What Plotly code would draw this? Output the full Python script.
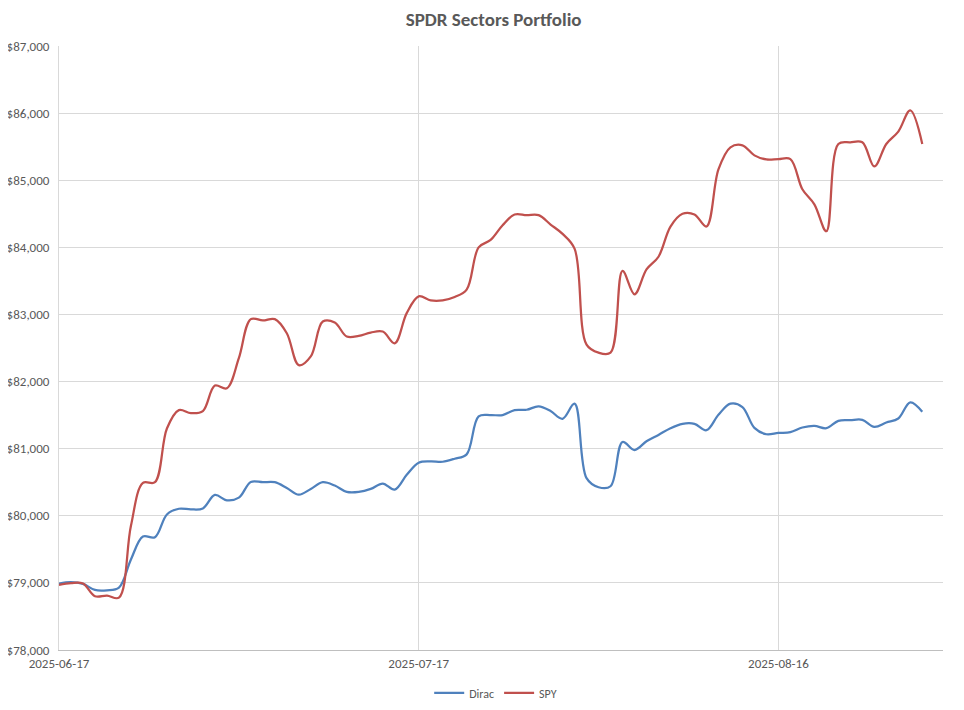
import pandas as pd
import plotly.graph_objs as go

# daily portfolio values, 2025-06-17 .. 2025-08-28
dirac = [78990, 79010, 78985, 78895, 78890, 78930, 79350, 79690, 79680, 80020,
         80105, 80095, 80110, 80310, 80230, 80270, 80505, 80500, 80500, 80415,
         80315, 80400, 80500, 80450, 80355, 80355, 80400, 80480, 80390, 80610,
         80790, 80810, 80805, 80850, 80915, 81480, 81500, 81500, 81575, 81580,
         81630, 81560, 81445, 81670, 80560, 80425, 80440, 81100, 80980, 81110,
         81205, 81305, 81370, 81370, 81275, 81505, 81670, 81620, 81310, 81215,
         81235, 81245, 81315, 81340, 81305, 81415, 81425, 81430, 81325, 81390,
         81450, 81690, 81550]

spy = [78970, 78995, 78990, 78800, 78810, 78780, 79850, 80490, 80500, 81300,
       81575, 81530, 81560, 81940, 81900, 82350, 82930, 82910, 82930, 82720,
       82245, 82375, 82895, 82880, 82670, 82680, 82730, 82745, 82570, 83020,
       83270, 83210, 83210, 83260, 83370, 84000, 84110, 84330, 84490, 84480,
       84480, 84340, 84200, 83980, 82550, 82430, 82430, 83650, 83300, 83670,
       83860, 84310, 84500, 84490, 84310, 85160, 85490, 85520, 85370, 85310,
       85315, 85315, 84865, 84640, 84240, 85540, 85565, 85565, 85205, 85540,
       85725, 86040, 85540]

dates = pd.date_range("2025-06-17", periods=len(dirac), freq="D")
x_ticks = ["2025-06-17", "2025-07-17", "2025-08-16"]

FONT = "Calibri, Carlito, Lato, sans-serif"
GREY = "#595959"

fig = go.Figure()
fig.add_trace(go.Scatter(x=dates, y=dirac, name="Dirac", mode="lines",
                         line=dict(color="#4F81BD", width=2.25, shape="spline")))
fig.add_trace(go.Scatter(x=dates, y=spy, name="SPY", mode="lines",
                         line=dict(color="#C0504D", width=2.25, shape="spline")))

# the page puts the figure 8px in from the top-left corner
fig.update_layout(
    width=956, height=702,
    margin=dict(l=51, r=21, t=38, b=60, autoexpand=False),
    paper_bgcolor="white", plot_bgcolor="white",
    font=dict(family=FONT, size=13, color=GREY),
    title=dict(text="<b>SPDR Sectors Portfolio</b>", x=0.508, xanchor="center",
               y=0.984, yanchor="middle", font=dict(size=19, color=GREY)),
    legend=dict(orientation="h", x=0.494, xanchor="center", y=-0.071, yanchor="middle",
                itemwidth=30, font=dict(size=12, color=GREY)),
)
fig.update_xaxes(type="date", range=["2025-06-17", "2025-08-29 17:30"],
                 tickvals=x_ticks, ticktext=x_ticks, automargin=False,
                 showgrid=True, gridcolor="#D9D9D9", gridwidth=1,
                 showline=True, linecolor="#BFBFBF", linewidth=1,
                 ticks="", ticklabelstandoff=1, zeroline=False)
fig.update_yaxes(range=[78000, 87000], dtick=1000, tickprefix="$", tickformat=",d",
                 automargin=False, ticklabelstandoff=6,
                 showgrid=True, gridcolor="#D9D9D9", gridwidth=1,
                 showline=True, linecolor="#D9D9D9", linewidth=1,
                 ticks="", zeroline=False)

fig.write_html("out.html")
